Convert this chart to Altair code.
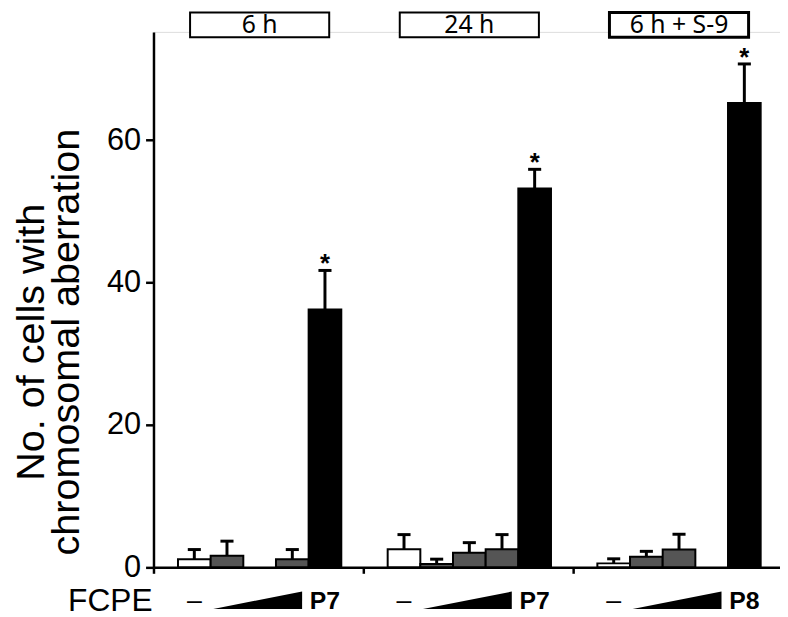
import altair as alt
import pandas as pd

# ---------------- data ----------------
GROUPS = ["6 h", "24 h", "6 h + S-9"]
POSITIVE = ["P7", "P7", "P8"]
TREATMENTS = ["control", "dose1", "dose2", "dose3", "positive"]
KINDS = ["control", "dose", "dose", "dose", "positive"]

MEAN_6H = [1.14, 1.64, None, 1.14, 36.2]
MEAN_24H = [2.54, 0.46, 2.04, 2.54, 53.2]
MEAN_S9 = [0.56, 1.5, 2.5, None, 65.2]

SD_6H = [1.36, 2.04, None, 1.36, 5.5]
SD_24H = [2.06, 0.69, 1.43, 2.06, 2.7]
SD_S9 = [0.64, 0.75, 2.15, None, 5.5]

SIGNIF = [False, False, False, False, True]

Y_TICKS = [0, 20, 40, 60]
Y_TITLE = ["No. of cells with", "chromosomal aberration"]
DOSE_LABEL = "FCPE"
CONTROL_MARK = "\u2013"

# ---------------- layout constants ----------------
PLOT_W, PLOT_H = 633, 541
SLOT_PX = 33.0
X_MAX = PLOT_W / SLOT_PX
Y_MAX = 75.2
PX_PER_UNIT = PLOT_H / Y_MAX
GROUP_W = 6.42          # slots per group (incl. gaps)
OFFSET = 0.75           # gap before first bar of each group
CAP_HALF = 0.2
WEDGE_START, WEDGE_END = 1.83, 4.55
WEDGE_BOTTOM = -42.0 / PX_PER_UNIT
WEDGE_TOP = -24.5 / PX_PER_UNIT
LABEL_Y = 574.6         # px from plot top
BOX_HALF = 2.13

means = [MEAN_6H, MEAN_24H, MEAN_S9]
sds = [SD_6H, SD_24H, SD_S9]

rows = []
for g, grp in enumerate(GROUPS):
    for s, trt in enumerate(TREATMENTS):
        m = means[g][s]
        if m is None:
            continue
        x0 = g * GROUP_W + OFFSET + s
        rows.append({
            "group": grp, "treatment": trt, "kind": KINDS[s],
            "mean": m, "top": m + sds[g][s], "base": 0.0,
            "x0": x0, "x1": x0 + 1, "xc": x0 + 0.5,
            "cap0": x0 + 0.5 - CAP_HALF, "cap1": x0 + 0.5 + CAP_HALF,
            "sig": SIGNIF[s],
        })
bars_df = pd.DataFrame(rows)

grp_rows = []
wedge_rows = []
for g, grp in enumerate(GROUPS):
    start = g * GROUP_W + OFFSET
    grp_rows.append({
        "group": grp, "positive": POSITIVE[g],
        "ctrl_x": start + 0.5, "pos_x": start + 4.5,
        "gc": start + 2.5, "b0": start + 2.5 - BOX_HALF, "b1": start + 2.5 + BOX_HALF,
    })
    wedge_rows.append({"group": grp, "x": g * GROUP_W + WEDGE_START, "y": WEDGE_BOTTOM, "y2": WEDGE_BOTTOM})
    wedge_rows.append({"group": grp, "x": g * GROUP_W + WEDGE_END, "y": WEDGE_TOP, "y2": WEDGE_BOTTOM})
grp_df = pd.DataFrame(grp_rows)
wedge_df = pd.DataFrame(wedge_rows)

FONT = "Liberation Sans"
BOX_FONT = "Noto Sans"

xscale = alt.Scale(domain=[0, X_MAX], nice=False, zero=False)
yscale = alt.Scale(domain=[0, Y_MAX], nice=False)

xaxis = alt.Axis(values=[0, GROUP_W, 2 * GROUP_W], labels=False, title=None,
                 tickSize=6, tickWidth=2.5, tickColor="black",
                 domainWidth=2.5, domainColor="black", grid=False)
yaxis = alt.Axis(values=Y_TICKS, tickSize=8, tickWidth=2.5, tickColor="black",
                 domainWidth=2.5, domainColor="black", grid=False,
                 labelFont=FONT, labelFontSize=31, labelColor="black", labelPadding=5,
                 title=Y_TITLE, titleFont=FONT, titleFontSize=40, titleFontWeight="normal",
                 titleColor="black", titleAngle=270, titleBaseline="top", titleAlign="center",
                 titleX=-143, titleY=313, titleLineHeight=35)

bars = alt.Chart(bars_df).mark_rect(stroke="black", strokeWidth=2).encode(
    x=alt.X("x0:Q", scale=xscale, axis=xaxis),
    x2="x1:Q",
    y=alt.Y("mean:Q", scale=yscale, axis=yaxis),
    y2="base:Q",
    fill=alt.Fill("kind:N", scale=alt.Scale(domain=["control", "dose", "positive"],
                                            range=["white", "#555555", "black"]), legend=None),
)

stems = alt.Chart(bars_df).mark_rule(color="black", strokeWidth=3).encode(
    x="xc:Q", y="mean:Q", y2="top:Q")
caps = alt.Chart(bars_df).mark_rule(color="black", strokeWidth=3).encode(
    x="cap0:Q", x2="cap1:Q", y="top:Q")
stars = alt.Chart(bars_df).transform_filter("datum.sig").mark_text(
    text="*", font=FONT, fontSize=26, fontWeight="bold", color="black", dy=-6).encode(
    x="xc:Q", y="top:Q")

wedges = alt.Chart(wedge_df).mark_area(color="black", interpolate="linear").encode(
    x="x:Q", y="y:Q", y2="y2:Q", detail="group:N")

dashes = alt.Chart(grp_df).mark_text(text=CONTROL_MARK, font=FONT, fontSize=27,
                                      baseline="middle", color="black").encode(
    x="ctrl_x:Q", y=alt.value(LABEL_Y))
poslab = alt.Chart(grp_df).mark_text(font=FONT, fontSize=25, fontWeight="bold",
                                      baseline="middle", color="black").encode(
    x="pos_x:Q", y=alt.value(LABEL_Y), text="positive:N")
fcpe = alt.Chart(pd.DataFrame({"label": [DOSE_LABEL]})).mark_text(
    font=FONT, fontSize=32, align="right", baseline="middle", color="black").encode(
    x=alt.value(-1), y=alt.value(LABEL_Y), text="label:N")

boxes = alt.Chart(grp_df).mark_rect(fill="white", stroke="black").encode(
    x="b0:Q", x2="b1:Q", y=alt.value(-19.5), y2=alt.value(5.5),
    strokeWidth=alt.condition(alt.datum.group == "6 h + S-9", alt.value(3), alt.value(2)))
boxtext = alt.Chart(grp_df).mark_text(font=BOX_FONT, fontSize=25, baseline="middle",
                                       color="black").encode(
    x="gc:Q", y=alt.value(-6.5), text="group:N")

chart = alt.layer(bars, stems, caps, stars, wedges, dashes, poslab, fcpe, boxes, boxtext).properties(
    width=PLOT_W, height=PLOT_H,
    autosize=alt.AutoSizeParams(type="none"),
    padding={"left": 147, "top": 21, "right": 0, "bottom": 47},
).configure_view(stroke=None).configure(background="white")

chart.save("out.html", embed_options={"renderer": "svg", "actions": False})
